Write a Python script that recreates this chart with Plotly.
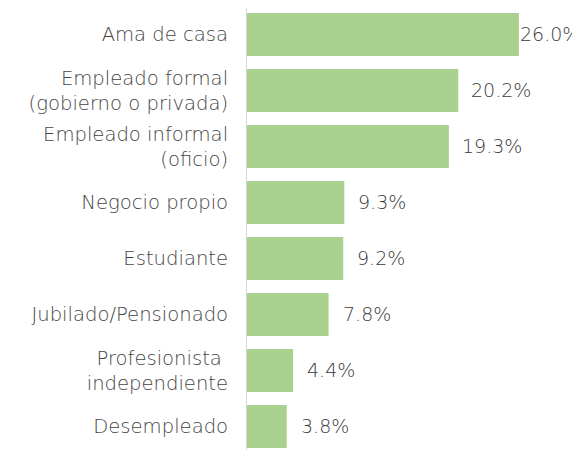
import plotly.graph_objects as go

categories = [
    "Ama de casa",
    "Empleado formal<br>(gobierno o privada)",
    "Empleado informal<br>(oficio)",
    "Negocio propio",
    "Estudiante",
    "Jubilado/Pensionado",
    "Profesionista <br>independiente",
    "Desempleado",
]
values = [26.0, 20.2, 19.3, 9.3, 9.2, 7.8, 4.4, 3.8]
value_labels = ["26.0%", "20.2%", "19.3%", "9.3%", "9.2%", "7.8%", "4.4%", "3.8%"]
label_offsets = [-1, 11, 11, 12, 12, 12, 12, 12]

BAR = "#a9d18e"
FONT = "DejaVu Sans"

fig = go.Figure()
fig.add_trace(go.Bar(
    x=values, y=categories, orientation="h",
    marker=dict(color=BAR, line=dict(width=0)),
    hoverinfo="skip",
))

for v, lab, off, cat in zip(values, value_labels, label_offsets, categories):
    fig.add_annotation(
        x=v, y=cat, text=lab, showarrow=False,
        xanchor="left", yanchor="middle", xshift=off,
        font=dict(family=FONT, size=19, color="#3a3a3a", weight=300),
    )

fig.update_layout(
    width=580, height=450,
    margin=dict(l=239, r=0, t=0, b=0),
    paper_bgcolor="white", plot_bgcolor="white",
    bargap=0.23,
    showlegend=False,
    xaxis=dict(range=[0, 32.6], visible=False),
    yaxis=dict(
        categoryorder="array", categoryarray=categories,
        range=[7.563, -0.473], automargin=False,
        showline=True, linecolor="#d9d9d9", linewidth=1,
        showgrid=False, zeroline=False,
        ticks="", ticklabelstandoff=14,
        tickfont=dict(family=FONT, size=19.6, color="#444444", weight=300),
    ),
)

fig.write_html("out.html")
